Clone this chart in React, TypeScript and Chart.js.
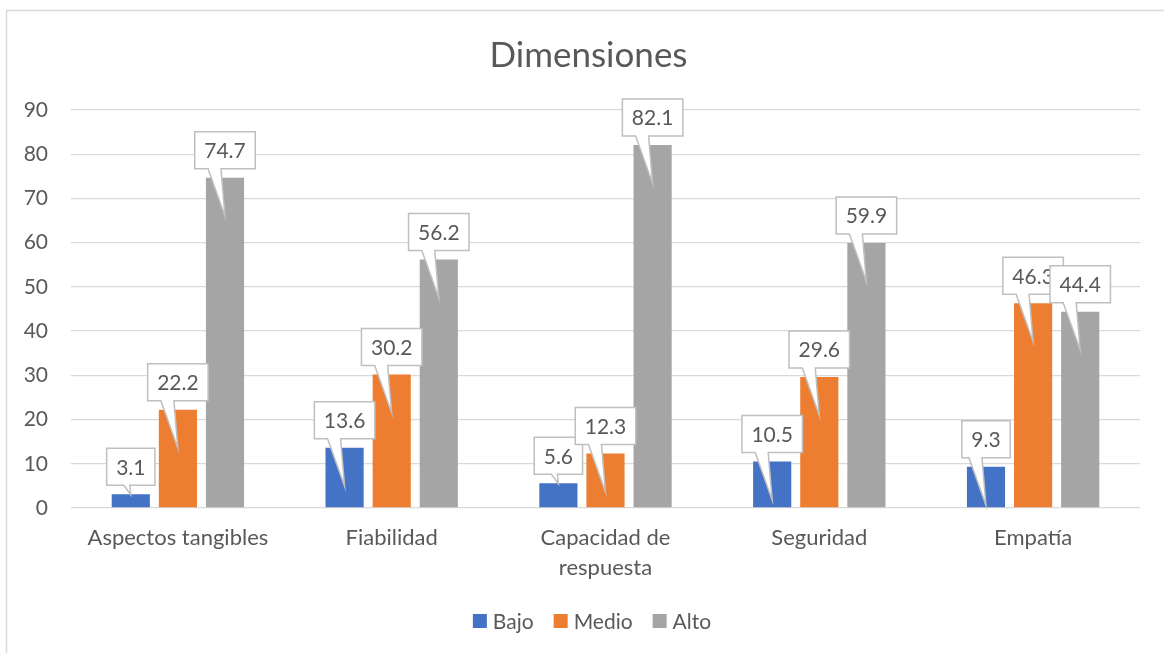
import React, { useEffect, useRef } from "react";
import { Chart, registerables } from "chart.js";

Chart.register(...registerables);

const categories: (string | string[])[] = [
  "Aspectos tangibles",
  "Fiabilidad",
  ["Capacidad de", "respuesta"],
  "Seguridad",
  "Empatía",
];
const bajo = [3.1, 13.6, 5.6, 10.5, 9.3];
const medio = [22.2, 30.2, 12.3, 29.6, 46.3];
const alto = [74.7, 56.2, 82.1, 59.9, 44.4];
const seriesNames = ["Bajo", "Medio", "Alto"];
const seriesColors = ["#4472C4", "#ED7D31", "#A5A5A5"];
const titleText = "Dimensiones";

const TEXT = "#595959";
const FONT = "Lato";

const framePlugin = {
  id: "frame",
  beforeDraw(chart: any) {
    const ctx = chart.ctx;
    ctx.save();
    ctx.fillStyle = "#ffffff";
    ctx.fillRect(0, 0, chart.width, chart.height);
    ctx.strokeStyle = "#D9D9D9";
    ctx.lineWidth = 1.5;
    ctx.beginPath();
    ctx.moveTo(6.5, chart.height + 2);
    ctx.lineTo(6.5, 10.5);
    ctx.lineTo(chart.width + 2, 10.5);
    ctx.stroke();
    ctx.restore();
  },
};

// Title and legend centred on the chart's (wider) frame, as in the original
const titleLegendPlugin = {
  id: "titleLegend",
  afterDraw(chart: any) {
    const ctx = chart.ctx;
    ctx.save();
    ctx.fillStyle = TEXT;
    ctx.textBaseline = "middle";
    ctx.textAlign = "center";
    ctx.font = `35px ${FONT}`;
    ctx.fillText(titleText, 588.5, 56);

    ctx.font = `21px ${FONT}`;
    ctx.textAlign = "left";
    const box = 14;
    const gap = 6;
    const spacing = 20;
    const widths = seriesNames.map((n) => ctx.measureText(n).width);
    const total =
      widths.reduce((a, w) => a + box + gap + w, 0) + spacing * (seriesNames.length - 1);
    let x = 592 - total / 2;
    const cy = 621;
    seriesNames.forEach((n, k) => {
      ctx.fillStyle = seriesColors[k];
      ctx.fillRect(x, cy - box / 2, box, box);
      ctx.fillStyle = TEXT;
      ctx.fillText(n, x + box + gap, cy + 1);
      x += box + gap + widths[k] + spacing;
    });
    ctx.restore();
  },
};

const calloutPlugin = {
  id: "callouts",
  afterDatasetsDraw(chart: any) {
    const ctx = chart.ctx;
    ctx.save();
    ctx.font = `21px ${FONT}`;
    chart.data.datasets.forEach((ds: any, di: number) => {
      const meta = chart.getDatasetMeta(di);
      meta.data.forEach((el: any, i: number) => {
        const v = ds.data[i];
        const text = v.toFixed(1);
        const tw = ctx.measureText(text).width;
        const bw = tw + 19;
        const bh = 37;
        const cx = el.x;
        const top = el.y;
        const barH = el.base - el.y;
        const bottom = top - 9;
        const left = cx - bw / 2;
        const right = cx + bw / 2;
        const boxTop = bottom - bh;
        let tipY: number;
        let bl: number;
        let br: number;
        if (barH >= 40) {
          tipY = top + 38.5;
          bl = cx - 17;
          br = cx - 4;
        } else {
          tipY = top + 0.5;
          bl = cx - 7;
          br = cx - 1;
        }
        const tipX = cx;
        ctx.beginPath();
        ctx.moveTo(left, boxTop);
        ctx.lineTo(right, boxTop);
        ctx.lineTo(right, bottom);
        ctx.lineTo(br, bottom);
        ctx.lineTo(tipX, tipY);
        ctx.lineTo(bl, bottom);
        ctx.lineTo(left, bottom);
        ctx.closePath();
        ctx.fillStyle = "#ffffff";
        ctx.fill();
        ctx.strokeStyle = "#BFBFBF";
        ctx.lineWidth = 1.5;
        ctx.stroke();
        ctx.fillStyle = TEXT;
        ctx.textAlign = "center";
        ctx.textBaseline = "middle";
        ctx.fillText(text, cx, boxTop + bh / 2 + 1);
      });
    });
    ctx.restore();
  },
};

export default function App() {
  const ref = useRef<HTMLCanvasElement>(null);
  useEffect(() => {
    if (!ref.current) return;
    const values = [bajo, medio, alto];
    const chart = new Chart(ref.current, {
      type: "bar",
      data: {
        labels: categories,
        datasets: values.map((d, k) => ({
          label: seriesNames[k],
          data: d,
          backgroundColor: seriesColors[k],
          borderWidth: 0,
          categoryPercentage: 0.661,
          barPercentage: 0.81,
        })),
      },
      options: {
        animation: false,
        responsive: false,
        devicePixelRatio: 1,
        layout: { padding: { left: 0, right: 24, top: 110, bottom: 55.5 } },
        plugins: {
          title: { display: false },
          legend: { display: false },
          tooltip: { enabled: false },
        },
        scales: {
          x: {
            grid: { display: false, drawTicks: false },
            border: { display: false },
            ticks: {
              color: TEXT,
              font: { family: FONT, size: 22, lineHeight: 1.37 },
              padding: 15,
              maxRotation: 0,
              autoSkip: false,
            },
            afterFit(scale: any) {
              scale.height = 89.5;
            },
          },
          y: {
            min: 0,
            max: 90,
            ticks: {
              stepSize: 10,
              color: TEXT,
              font: { family: FONT, size: 21 },
              padding: 23,
            },
            grid: { color: "#D9D9D9", lineWidth: 1.3, drawTicks: false },
            border: { display: false },
            afterFit(scale: any) {
              scale.width = 71;
            },
          },
        },
      },
      plugins: [framePlugin, calloutPlugin, titleLegendPlugin],
    } as any);
    return () => chart.destroy();
  }, []);
  return (
    <div style={{ position: "absolute", left: 0, top: 0, width: 1164, height: 653 }}>
      <canvas ref={ref} width={1164} height={653} />
    </div>
  );
}
